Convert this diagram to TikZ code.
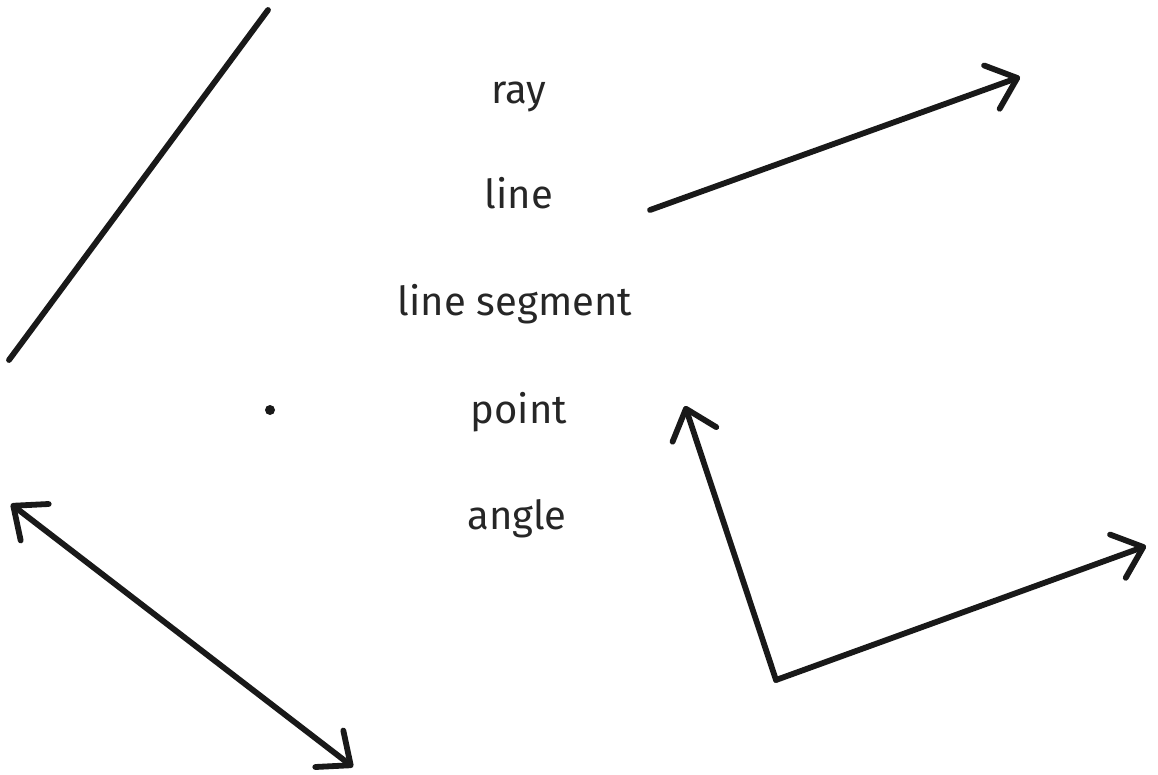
\documentclass[tikz,border=0pt]{standalone}
\usepackage{fontspec}
\setmainfont{Fira Sans}
\usetikzlibrary{arrows.meta}
\begin{document}
\begin{tikzpicture}[x=1pt,y=-1pt,
  geo/.style={line width=5.8pt,draw=black!90,line cap=round,line join=round},
  barb/.tip={Straight Barb[length=27pt,width=46pt,line width=5.8pt,round]},
  tip/.style={-barb},
  lbl/.style={font=\fontsize{40}{46}\selectfont,text=black!85,anchor=base}]
\useasboundingbox (0,0) rectangle (1158,775);
% labels
\node[lbl] (ray) at (519,104) {ray};
\node[lbl] (line) at (519,209) {line};
\node[lbl] (seg) at (515,316) {line segment};
\node[lbl] (pt) at (519,423) {point};
\node[lbl] (ang) at (517,529) {angle};
% line segment
\coordinate (s1) at (268,10);
\coordinate (s2) at (9,360);
\draw[geo] (s1) -- (s2);
% ray
\coordinate (r1) at (650,210);
\coordinate (r2) at (1020,77);
\draw[geo,tip] (r1) -- (r2);
% point
\fill[black!90] (270,410) circle (5);
% line
\coordinate (l1) at (11,504);
\coordinate (l2) at (353,767);
\draw[geo,barb-barb] (l1) -- (l2);
% angle
\coordinate (v) at (776,680);
\coordinate (a1) at (685,406);
\coordinate (a2) at (1146,546);
\draw[geo,tip] (v) -- (a1);
\draw[geo,tip] (v) -- (a2);
\end{tikzpicture}
\end{document}
